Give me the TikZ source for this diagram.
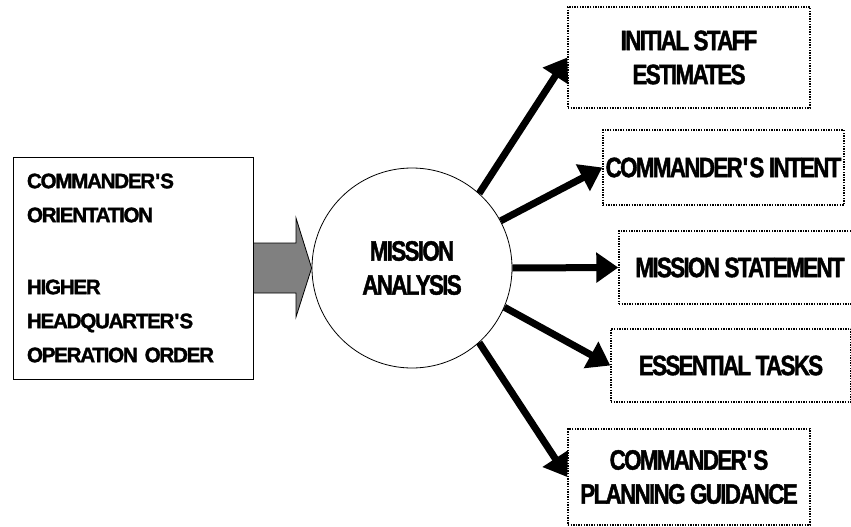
\documentclass[tikz,border=0pt]{standalone}
\usepackage{fontspec}
\setmainfont{Liberation Sans}[FakeStretch=0.8, LetterSpace=-6, FakeBold=1.5]
\newfontfamily\wideface{Liberation Sans}[FakeStretch=0.98, LetterSpace=-6, FakeBold=1.5]
\definecolor{arrowgray}{RGB}{128,128,128}
\usetikzlibrary{arrows.meta, positioning}

\begin{document}
\begin{tikzpicture}[x=1pt, y=-1pt,
        outbox/.style={draw, dotted, line width=1.4pt, dash pattern=on 1.4pt off 1.2pt, align=center,
            font=\fontsize{28}{34}\selectfont\bfseries, inner sep=0pt},
        thickarrow/.style={line width=7pt, -{Triangle[length=22pt,width=29pt]}}]
        \useasboundingbox (0,0) rectangle (851,527);
        \clip (0,0) rectangle (851,527);

        \node[draw, line width=0.8pt, minimum width=240pt, minimum height=222pt, text width=212pt, align=left,
            font=\wideface\fontsize{21}{34}\selectfont\bfseries, inner sep=0pt] (orders) at (133, 268)
            {COMMANDER\textquotesingle S\\ORIENTATION\\\mbox{}\\[4pt]HIGHER\\HEADQUARTER\textquotesingle S\\OPERATION ORDER};
        \node[circle, draw, line width=0.8pt, minimum size=200pt, align=center, inner sep=0pt,
            font=\fontsize{28}{34}\selectfont\bfseries] (ma) at (412, 268) {MISSION\\ANALYSIS};

        \node[outbox, minimum width=242pt, minimum height=101pt] (staff) at (689, 57.5) {INITIAL STAFF\\ESTIMATES};
        \node[outbox, minimum width=241pt, minimum height=75pt] (intent) at (723.5, 167.5) {COMMANDER\textquotesingle S INTENT};
        \node[outbox, minimum width=242pt, minimum height=73pt] (mission) at (740, 267.5) {MISSION STATEMENT};
        \node[outbox, minimum width=240pt, minimum height=73pt] (tasks) at (731, 365.5) {ESSENTIAL TASKS};
        \node[outbox, minimum width=242pt, minimum height=96pt] (guidance) at (689, 477) {COMMANDER\textquotesingle S\\PLANNING GUIDANCE};

        % block arrow into the analysis
        \draw[line width=0.8pt, fill=arrowgray] (orders.east |- 0,243) -- (296,243) -- (296,218)
            -- (ma.west) -- (296,317) -- (296,293) -- (orders.east |- 0,293) -- cycle;

        \draw[thickarrow] (ma.48) -- (staff.west);
        \draw[thickarrow] (ma.28) -- (intent.west);
        \draw[thickarrow] (ma.0) -- (mission.west);
        \draw[thickarrow] (ma.-23) -- (tasks.west);
        \draw[thickarrow] (ma.-48) -- (guidance.west);
    \end{tikzpicture}
\end{document}
